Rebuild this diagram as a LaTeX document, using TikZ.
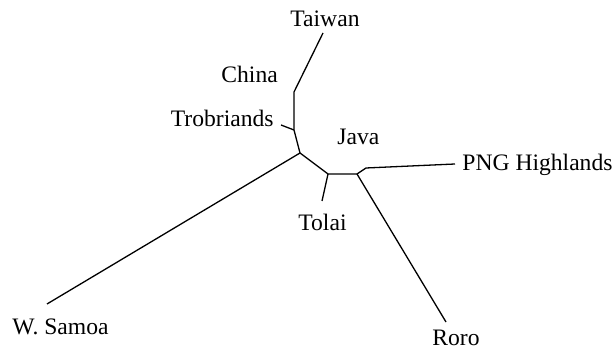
\documentclass[tikz,border=0pt]{standalone}
\usepackage{fontspec}
\setmainfont{Liberation Serif}
\begin{document}
\begin{tikzpicture}[x=0.5pt,y=-0.5pt,
  branch/.style={line width=0.65pt,line join=round},
  lab/.style={inner sep=0pt,font=\fontsize{11.8}{13}\selectfont}]
\useasboundingbox (0,0) rectangle (615,351);
% internal points
\coordinate (c) at (300,153);
\coordinate (tj) at (294,130);
\coordinate (cb) at (294,92);
\coordinate (tt) at (323,33);
\coordinate (tr) at (281,125);
\coordinate (ws) at (47,304);
\coordinate (a) at (328,174);
\coordinate (b) at (357,174);
\coordinate (pk) at (366,168);
\coordinate (png) at (455,164);
\coordinate (to) at (322,201);
\coordinate (ro) at (446,322);
% branches
\draw[branch] (tt) -- (cb) -- (tj) -- (c);
\draw[branch] (tj) -- (tr);
\draw[branch] (c) -- (ws);
\draw[branch] (c) -- (a) -- (b) -- (pk) -- (png);
\draw[branch] (a) -- (to);
\draw[branch] (b) -- (ro);
% labels
\node[lab,anchor=base west] (lTaiwan) at (290,27) {Taiwan};
\node[lab,anchor=base west] (lChina) at (221,83) {China};
\node[lab,anchor=base east] (lTrob) at (274,127) {Trobriands};
\node[lab,anchor=base west] (lJava) at (337,145) {Java};
\node[lab,anchor=base west] (lPNG) at (462,171) {PNG Highlands};
\node[lab,anchor=base west] (lTolai) at (298,231) {Tolai};
\node[lab,anchor=base west] (lSamoa) at (12,335) {W. Samoa};
\node[lab,anchor=base west] (lRoro) at (432,346) {Roro};
\end{tikzpicture}
\end{document}
